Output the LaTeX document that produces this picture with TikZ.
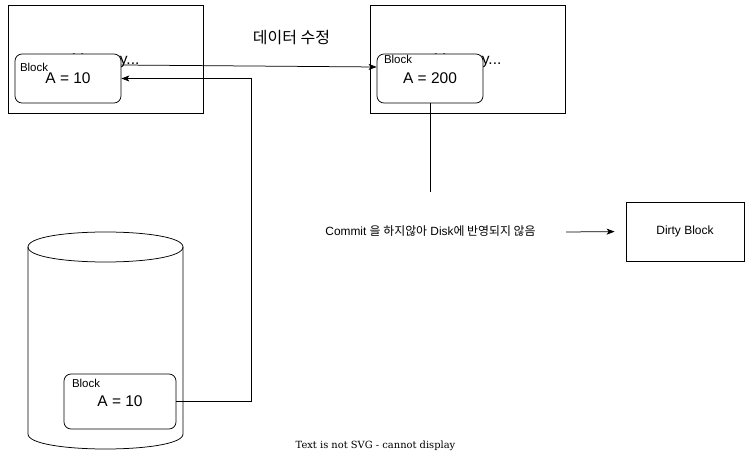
\documentclass[tikz,border=0pt]{standalone}
\usepackage{fontspec}
\setmainfont{Liberation Sans}
\newfontfamily\krfont{Noto Sans CJK KR}
\newfontfamily\svgfont{DejaVu Serif}
\usetikzlibrary{arrows.meta,calc}
\begin{document}
\begin{tikzpicture}[x=1pt,y=-1pt,line width=0.75pt,
  membox/.style={draw,rectangle,inner sep=0pt,minimum width=195pt,minimum height=108pt},
  blk/.style={draw,fill=white,rounded corners=7pt,inner sep=0pt,font=\fontsize{15.5}{17}\selectfont},
  blklabel/.style={anchor=north west,inner sep=0pt,font=\fontsize{11.5}{13}\selectfont},
  arr/.style={-{Stealth[length=8pt,width=6pt,inset=2pt]}},
  plain/.style={draw,rectangle,inner sep=0pt}]
\useasboundingbox (0,0) rectangle (750,454);

% memory boxes
\node[membox] (mem1) at (105.5,59) {};
\node[font=\fontsize{15.5}{17}\selectfont,inner sep=0pt] (mem1t) at (105.5,61) {Memory...};
\node[membox] (mem2) at (467.5,59) {};
\node[font=\fontsize{15.5}{17}\selectfont,inner sep=0pt] (mem2t) at (467.5,61) {Memory...};

% blocks in memory
\node[blk,minimum width=106pt,minimum height=49pt] (blk1) at (68,78.5) {A = 10};
\node[blklabel] (blk1l) at ($(blk1.north west)+(5,9.5)$) {Block};
\node[blk,minimum width=106pt,minimum height=49pt] (blk2) at (430,78.5) {A = 200};
\node[blklabel] (blk2l) at ($(blk2.north west)+(7,1)$) {Block};

% title
\node[font=\krfont\fontsize{16}{18}\selectfont,inner sep=0pt] (title) at (291.5,38) {데이터 수정};

% disk cylinder
\draw (28,247) .. controls (28,227) and (183,227) .. (183,247)
      .. controls (183,267) and (28,267) .. (28,247);
\draw (28,247) -- (28,434) .. controls (28,454) and (183,454) .. (183,434) -- (183,247);

\node[blk,minimum width=112pt,minimum height=55pt] (dblk) at (120,401.5) {A = 10};
\node[blklabel] (dblkl) at ($(dblk.north west)+(8,5.5)$) {Block};

% connectors
\draw[arr] ([yshift=13.5pt]blk1.east) -- ([yshift=11.5pt]blk2.west);
\draw[arr] (dblk.east) -| ($(blk1.east)+(130,0)$) -- (blk1.east);
\coordinate (vend) at (430,192);
\draw (blk2.south) -- (vend);

% commit text and dirty block
\node[inner sep=0pt,font=\fontsize{11.9}{13}\selectfont] (commit) at (430.5,231)
  {Commit {\krfont 을 하지않아} Disk{\krfont 에 반영되지 않음}};
\node[plain,minimum width=118pt,minimum height=59pt,font=\fontsize{12}{14}\selectfont] (dirty) at (685,231.5) {Dirty Block};
\coordinate (astart) at (566,232);
\draw[arr,shorten >=11pt] (astart) -- (dirty.west);

% footer
\node[inner sep=0pt,font=\svgfont\fontsize{9.9}{11}\selectfont] (svgnote) at (375.5,446) {Text is not SVG - cannot display};
\end{tikzpicture}
\end{document}
